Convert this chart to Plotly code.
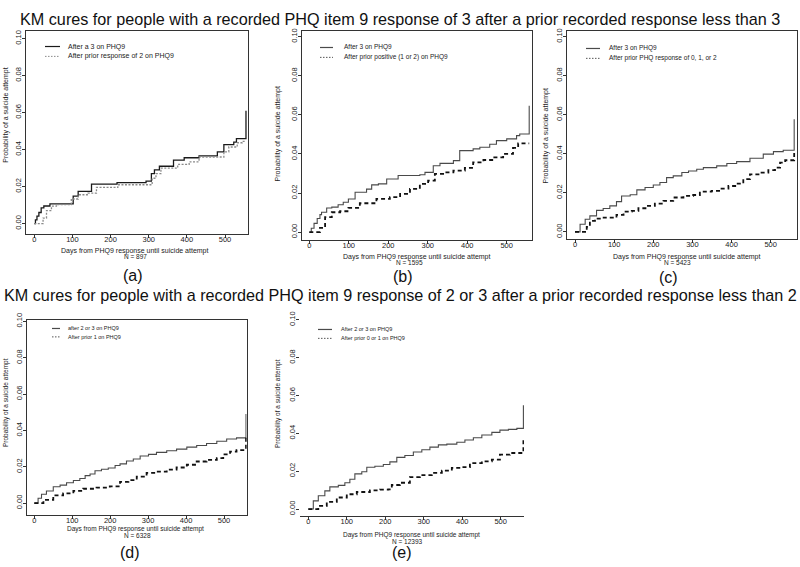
import plotly.graph_objects as go

W, H = 800, 567
FONT = "Liberation Sans, Arial, sans-serif"

# ---------------- data (days, cumulative probability) ----------------
a_solid_days = [0, 3, 7, 12, 18, 25, 41, 89, 102, 115, 150, 217, 293, 307, 315, 328, 365, 393, 432, 480, 497, 523, 530, 555, 555]
a_solid_prob = [0, 0.002, 0.004, 0.006, 0.0085, 0.0095, 0.0107, 0.0107, 0.0148, 0.0174, 0.0213, 0.0222, 0.023, 0.027, 0.029, 0.031, 0.0343, 0.0356, 0.0366, 0.0388, 0.0427, 0.044, 0.0459, 0.0459, 0.061]
a_dot_days = [0, 23, 32, 45, 58, 97, 115, 141, 163, 219, 309, 319, 332, 376, 406, 432, 497, 510, 532, 545, 555]
a_dot_prob = [0, 0.003, 0.007, 0.0094, 0.0103, 0.0133, 0.0156, 0.0165, 0.0196, 0.021, 0.0245, 0.027, 0.030, 0.032, 0.0334, 0.036, 0.0388, 0.0414, 0.0437, 0.0444, 0.0445]

b_solid_days = [0, 5, 12, 20, 27, 31, 44, 57, 73, 86, 99, 116, 145, 158, 175, 196, 225, 280, 293, 314, 331, 365, 381, 415, 432, 457, 474, 500, 525, 533, 557, 557]
b_solid_prob = [0, 0.002, 0.0045, 0.007, 0.009, 0.0102, 0.0124, 0.0128, 0.014, 0.0153, 0.017, 0.0204, 0.022, 0.0242, 0.0247, 0.0272, 0.029, 0.0294, 0.0306, 0.034, 0.0352, 0.0366, 0.0417, 0.0426, 0.0434, 0.045, 0.0468, 0.0477, 0.0494, 0.0502, 0.0502, 0.0646]
b_dash_days = [0, 14, 27, 40, 57, 78, 99, 128, 170, 204, 230, 255, 280, 301, 318, 339, 365, 394, 415, 441, 466, 491, 516, 529, 557]
b_dash_prob = [0, 0, 0.0022, 0.0077, 0.0102, 0.0107, 0.0124, 0.0148, 0.017, 0.0179, 0.0196, 0.0221, 0.0247, 0.0264, 0.0298, 0.0306, 0.0315, 0.0329, 0.0357, 0.0369, 0.0383, 0.040, 0.0431, 0.0454, 0.0454]

c_solid_days = [0, 13, 26, 38, 55, 72, 89, 106, 119, 141, 158, 179, 200, 217, 234, 251, 273, 290, 311, 328, 362, 388, 413, 447, 481, 507, 532, 560, 560]
c_solid_prob = [0, 0.0039, 0.0065, 0.0082, 0.011, 0.012, 0.0133, 0.0155, 0.0184, 0.019, 0.0215, 0.0227, 0.024, 0.0253, 0.0278, 0.0287, 0.0304, 0.0312, 0.0321, 0.0329, 0.0338, 0.035, 0.036, 0.0377, 0.0398, 0.0411, 0.0418, 0.0428, 0.0577]
c_dash_days = [0, 20, 30, 38, 51, 68, 106, 124, 145, 162, 183, 204, 226, 251, 277, 302, 319, 349, 371, 392, 413, 430, 447, 473, 494, 511, 524, 537, 560, 560]
c_dash_prob = [0, 0, 0.0026, 0.0056, 0.0068, 0.0073, 0.0087, 0.0104, 0.0108, 0.0121, 0.0133, 0.0145, 0.0159, 0.0176, 0.0184, 0.0189, 0.0206, 0.021, 0.0222, 0.0235, 0.0247, 0.027, 0.0295, 0.0304, 0.0316, 0.0329, 0.0355, 0.0367, 0.0367, 0.042]

d_solid_days = [0, 10, 19, 32, 50, 68, 85, 103, 120, 134, 147, 160, 177, 195, 213, 226, 243, 261, 279, 301, 322, 349, 375, 402, 428, 454, 481, 507, 533, 558, 558]
d_solid_prob = [0, 0.0027, 0.0049, 0.0067, 0.009, 0.0099, 0.0112, 0.0124, 0.0135, 0.0151, 0.016, 0.0178, 0.0186, 0.0193, 0.0207, 0.0216, 0.0232, 0.0243, 0.0259, 0.0268, 0.0279, 0.0288, 0.0297, 0.0308, 0.0317, 0.0328, 0.034, 0.0353, 0.0359, 0.0366, 0.049]
d_dash_days = [0, 24, 50, 76, 103, 129, 164, 199, 226, 248, 270, 296, 322, 349, 375, 402, 428, 454, 481, 498, 516, 533, 558, 558]
d_dash_prob = [0, 0.0018, 0.0043, 0.0054, 0.0067, 0.0079, 0.0085, 0.0092, 0.0117, 0.0126, 0.0146, 0.0166, 0.0173, 0.0184, 0.0196, 0.0211, 0.0229, 0.0238, 0.0247, 0.0268, 0.0283, 0.0292, 0.0292, 0.0373]

e_solid_days = [0, 13, 26, 43, 56, 78, 95, 108, 121, 139, 152, 173, 195, 212, 230, 251, 273, 295, 316, 338, 360, 386, 407, 429, 451, 477, 498, 520, 542, 559, 559]
e_solid_prob = [0, 0.0043, 0.007, 0.0096, 0.0117, 0.0125, 0.0139, 0.0157, 0.0186, 0.0197, 0.0221, 0.0226, 0.0235, 0.0249, 0.0273, 0.0283, 0.0301, 0.0313, 0.0327, 0.0339, 0.0343, 0.0353, 0.0365, 0.0377, 0.0391, 0.0405, 0.0417, 0.0421, 0.0426, 0.043, 0.0548]
e_dash_days = [0, 26, 48, 74, 100, 126, 160, 186, 208, 217, 238, 264, 290, 321, 347, 373, 399, 420, 451, 477, 498, 524, 559, 559]
e_dash_prob = [0, 0.0017, 0.0038, 0.0061, 0.0078, 0.009, 0.0099, 0.0103, 0.0104, 0.0127, 0.0139, 0.0169, 0.0179, 0.0191, 0.0203, 0.0217, 0.0221, 0.0243, 0.0252, 0.0261, 0.0287, 0.0296, 0.0296, 0.0365]

x_ticks = [0, 100, 200, 300, 400, 500]
y_ticks = [0.00, 0.02, 0.04, 0.06, 0.08, 0.10]
y_tick_text = ["0.00", "0.02", "0.04", "0.06", "0.08", "0.10"]

panel_letters = ["(a)", "(b)", "(c)", "(d)", "(e)"]
n_labels = ["N = 897", "N = 1595", "N = 5423", "N = 6328", "N = 12393"]
legend_solid = ["After a 3 on PHQ9", "After 3 on PHQ9", "After 3 on PHQ9", "after 2 or 3 on PHQ9", "After 2 or 3 on PHQ9"]
legend_other = ["After prior response of 2 on PHQ9", "After prior positive (1 or 2) on PHQ9",
                "After prior PHQ response of 0, 1, or 2", "After prior 1 on PHQ9", "After prior 0 or 1 on PHQ9"]
title_top = "KM cures for people with a recorded PHQ item 9 response of 3 after a prior recorded response less than 3"
title_bottom = "KM cures for people with a recorded PHQ item 9 response of 2 or 3 after a prior recorded response less than 2"
x_title = "Days from PHQ9 response until suicide attempt"
y_title = "Probability of a suicide attempt"

def px(x):
    return x / W

def py(y):
    return 1 - y / H

# pixel anchors per panel: (x of day 0, x of day 500, y of prob 0, y of prob 0.10)
anchors = [
    (34.3, 225.0, 219.3, 32.0),
    (309.3, 506.7, 228.0, 30.0),
    (575.0, 770.7, 227.7, 30.0),
    (34.3, 224.0, 502.3, 318.3),
    (308.3, 500.7, 508.3, 316.7),
]
# plot-area box per panel in pixels: (left, right, top, bottom)
boxes = [
    (26.0, 248.0, 24.5, 230.0),
    (301.5, 531.7, 24.0, 236.0),
    (567.0, 797.0, 24.0, 235.0),
    (26.7, 246.7, 317.0, 514.0),
    (300.0, 524.0, 309.0, 515.0),
]

fig = go.Figure()
series = [
    (a_solid_days, a_solid_prob, a_dot_days, a_dot_prob),
    (b_solid_days, b_solid_prob, b_dash_days, b_dash_prob),
    (c_solid_days, c_solid_prob, c_dash_days, c_dash_prob),
    (d_solid_days, d_solid_prob, d_dash_days, d_dash_prob),
    (e_solid_days, e_solid_prob, e_dash_days, e_dash_prob),
]

layout_axes = {}
shapes = []
annotations = []

def note(x, y, text, size, angle=0, xanchor="center", color="#222"):
    annotations.append(dict(x=px(x), y=py(y), xref="paper", yref="paper", text=text, textangle=angle,
                            showarrow=False, xanchor=xanchor, yanchor="middle",
                            font=dict(family=FONT, size=size, color=color)))

for i, (sd, sp, od, op) in enumerate(series):
    k = "" if i == 0 else str(i + 1)
    xa, ya = "x" + k, "y" + k
    if i == 0:
        solid_col, solid_w = "#1a1a1a", 1.3
        other_line = dict(color="#8a8a8a", width=1.3, dash="2px,1.5px")
    else:
        solid_col, solid_w = "#4a4a4a", 1.1
        other_line = dict(color="#111111", width=1.8, dash="4px,3px")
    fig.add_trace(go.Scatter(x=sd, y=sp, mode="lines", line=dict(color=solid_col, width=solid_w, shape="hv"),
                             xaxis=xa, yaxis=ya, showlegend=False, hoverinfo="skip"))
    fig.add_trace(go.Scatter(x=od, y=op, mode="lines", line=dict(shape="hv", **other_line),
                             xaxis=xa, yaxis=ya, showlegend=False, hoverinfo="skip"))

    x0p, x500p, y0p, y10p = anchors[i]
    left, right, top, bottom = boxes[i]
    sx = (x500p - x0p) / 500.0
    sy = (y0p - y10p) / 0.1
    xr = [(left - x0p) / sx, (right - x0p) / sx]
    yr = [-(bottom - y0p) / sy, (y0p - top) / sy]
    box = i != 4
    layout_axes["xaxis" + k] = dict(
        domain=[px(left), min(px(right), 1.0)], range=xr, anchor=ya,
        tickvals=x_ticks, ticks="outside", ticklen=3, tickcolor="#333",
        showline=True, linecolor="#333", linewidth=1, mirror=box,
        showgrid=False, zeroline=False, ticklabelstandoff=-5,
        tickfont=dict(family=FONT, size=7.5, color="#222"),
    )
    layout_axes["yaxis" + k] = dict(
        domain=[py(bottom), py(top)], range=yr, anchor=xa,
        tickvals=y_ticks, ticktext=y_tick_text, ticks="outside", ticklen=3, tickcolor="#333",
        tickangle=-90, showline=box, linecolor="#333", linewidth=1, mirror=box,
        showgrid=False, zeroline=False, ticklabelstandoff=-2,
        tickfont=dict(family=FONT, size=7.5, color="#222"),
    )

# axis titles, N labels, panel letters
ytitle_pos = [(6, 110), (278, 129), (546, 131), (6, 401), (278, 402)]
xtitle_pos = [(135, 247), (417, 253), (687, 253), (135, 529), (411, 535)]
n_pos = [(135, 253), (410, 258.5), (677, 259), (137, 535), (407, 541)]
letter_pos = [(133, 272), (403, 272.5), (668, 273.5), (130, 552), (402, 552)]
title_fs = [7, 7, 7, 6.5, 6.5]
for i in range(5):
    note(ytitle_pos[i][0], ytitle_pos[i][1], y_title, title_fs[i], angle=-90)
    note(xtitle_pos[i][0], xtitle_pos[i][1], x_title, title_fs[i])
    note(n_pos[i][0], n_pos[i][1], n_labels[i], 6.5)
    note(letter_pos[i][0], letter_pos[i][1], panel_letters[i], 16, color="#111")

# in-plot legends
leg = [  # (sample x0, sample x1, text x, row1 y, row2 y, font size)
    (45, 60, 66, 40, 50, 7),
    (320, 333, 342, 41, 51, 6.5),
    (586, 600, 607, 42, 52, 6.5),
    (52, 60, 66, 325.5, 334, 5.5),
    (318, 332, 339, 326.5, 335.5, 5.5),
]
for i, (sx0, sx1, tx, r1, r2, fs) in enumerate(leg):
    solid_col = "#1a1a1a" if i == 0 else "#4a4a4a"
    dot_col = "#8a8a8a" if i == 0 else "#555555"
    shapes.append(dict(type="line", xref="paper", yref="paper", x0=px(sx0), x1=px(sx1), y0=py(r1), y1=py(r1),
                       line=dict(color=solid_col, width=1.2)))
    shapes.append(dict(type="line", xref="paper", yref="paper", x0=px(sx0), x1=px(sx1), y0=py(r2), y1=py(r2),
                       line=dict(color=dot_col, width=1, dash="1.5px,1.5px")))
    note(tx, r1, legend_solid[i], fs, xanchor="left")
    note(tx, r2, legend_other[i], fs, xanchor="left")

note(400, 12, title_top, 16.2, color="#111")
note(400, 292, title_bottom, 16.2, color="#111")

fig.update_layout(
    width=W, height=H, margin=dict(l=0, r=0, t=0, b=0),
    paper_bgcolor="white", plot_bgcolor="white",
    shapes=shapes, annotations=annotations, showlegend=False,
    **layout_axes,
)
fig.write_html("out.html", config={"displayModeBar": False},
               post_script="document.body.style.margin='0';document.body.style.padding='0';")
